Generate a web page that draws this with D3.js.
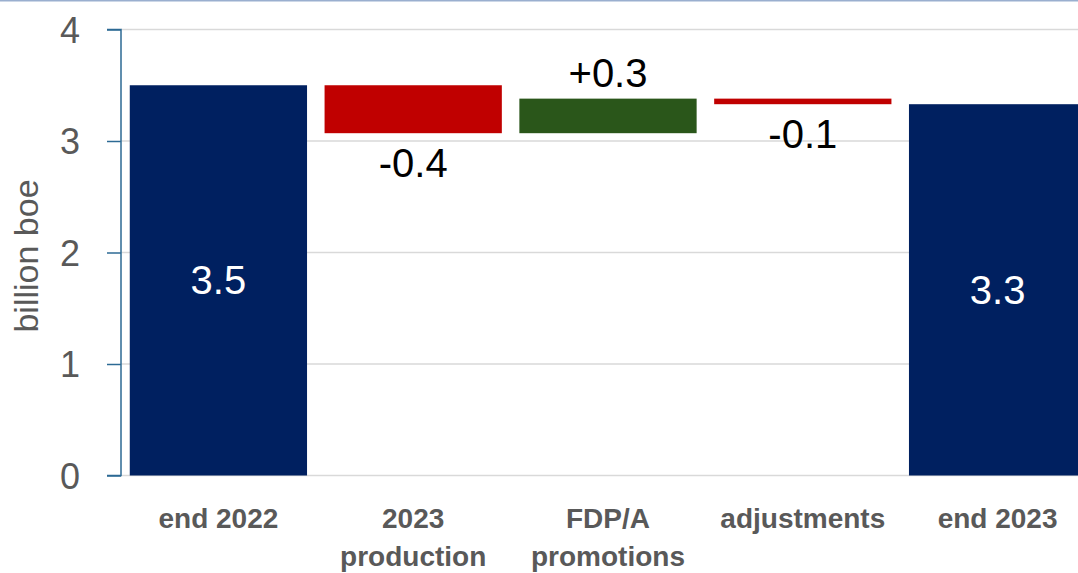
<!DOCTYPE html>
<html>
<head>
<meta charset="utf-8">
<script src="https://cdn.jsdelivr.net/npm/d3@7"></script>
<style>
  body { margin: 0; background: #fff; }
  svg { display: block; }
</style>
</head>
<body>
<script>
// categories and values (billion boe)
var categories = ['end 2022', '2023 production', 'FDP/A promotions', 'adjustments', 'end 2023']
var labelLines = [['end 2022'], ['2023', 'production'], ['FDP/A', 'promotions'], ['adjustments'], ['end 2023']]
var changes = [3.5, -0.43, 0.31, -0.05, 3.33]
var kinds = ['total', 'delta', 'delta', 'delta', 'total']
var valueLabels = ['3.5', '-0.4', '+0.3', '-0.1', '3.3']
var yTicks = [0, 1, 2, 3, 4]

var W = 1078, H = 573

var svg = d3.select('body').append('svg')
    .attr('width', W)
    .attr('height', H)

// build waterfall
var running = 0
var bars = categories.map((c, i) => {
    var d = { cat: c, kind: kinds[i], v: changes[i], label: valueLabels[i], lines: labelLines[i] }
    if (d.kind === 'total') {
        d.y0 = 0; d.y1 = d.v; running = d.v
    } else {
        d.y0 = running; d.y1 = running + d.v; running = d.y1
    }
    return d
})

var x = d3.scaleBand().domain(categories).range([121, 1095]).paddingInner(0.09).paddingOuter(0.045)
var y = d3.scaleLinear().domain([0, 4]).range([475.5, 29.5])

// top border
svg.append('line')
    .attr('x1', 0).attr('x2', W).attr('y1', 0.75).attr('y2', 0.75)
    .attr('stroke', '#9aafcf').attr('stroke-width', 1.5)

// gridlines
svg.append('g')
    .selectAll('line')
    .data(yTicks)
    .join('line')
    .attr('x1', 121).attr('x2', W)
    .attr('y1', d => y(d)).attr('y2', d => y(d))
    .attr('stroke', '#d9d9d9').attr('stroke-width', 1.5)

// bars
svg.append('g')
    .selectAll('rect')
    .data(bars)
    .join('rect')
    .attr('x', d => x(d.cat))
    .attr('width', x.bandwidth())
    .attr('y', d => y(Math.max(d.y0, d.y1)))
    .attr('height', d => Math.abs(y(d.y0) - y(d.y1)))
    .attr('fill', d => d.kind === 'total' ? '#002060' : (d.v < 0 ? '#c00000' : '#2a561a'))

// y axis
var yAxis = svg.append('g')
    .attr('transform', 'translate(121,0)')
    .call(d3.axisLeft(y).tickValues(yTicks).tickSize(14).tickFormat(d3.format('d')))
yAxis.select('.domain').attr('stroke', '#2c6a94').attr('stroke-width', 1.5)
    .attr('d', 'M-14,' + y(4) + 'H0V' + y(0) + 'H-14')
yAxis.selectAll('.tick line').attr('stroke', '#2c6a94').attr('stroke-width', 1.5)
yAxis.selectAll('.tick text')
    .attr('x', -41)
    .attr('dy', '0.36em')
    .attr('fill', '#595959')
    .style('font-family', 'Liberation Sans, Arial, sans-serif')
    .style('font-size', '36px')

// y title
svg.append('text')
    .attr('transform', 'translate(38,256) rotate(-90)')
    .attr('text-anchor', 'middle')
    .attr('fill', '#595959')
    .style('font-family', 'Liberation Sans, Arial, sans-serif')
    .style('font-size', '34px')
    .text('billion boe')

// value labels
svg.append('g')
    .selectAll('text')
    .data(bars)
    .join('text')
    .attr('x', d => x(d.cat) + x.bandwidth() / 2)
    .attr('y', d => {
        if (d.kind === 'total') return (y(d.y1) + y(0)) / 2 + 14
        if (d.v > 0) return y(d.y1) - 12
        return y(d.y1) + 44
    })
    .attr('text-anchor', 'middle')
    .attr('fill', d => d.kind === 'total' ? '#fff' : '#000')
    .style('font-family', 'Liberation Sans, Arial, sans-serif')
    .style('font-size', '40px')
    .text(d => d.label)

// category labels
var catLabels = svg.append('g')
    .selectAll('text')
    .data(bars)
    .join('text')
    .attr('x', d => x(d.cat) + x.bandwidth() / 2)
    .attr('y', 528)
    .attr('text-anchor', 'middle')
    .attr('fill', '#595959')
    .style('font-family', 'Liberation Sans, Arial, sans-serif')
    .style('font-size', '28px')
    .style('font-weight', 'bold')
catLabels.selectAll('tspan')
    .data(d => d.lines)
    .join('tspan')
    .attr('x', function () { return d3.select(this.parentNode).attr('x') })
    .attr('dy', (d, i) => i === 0 ? 0 : 38)
    .text(d => d)
</script>
</body>
</html>
